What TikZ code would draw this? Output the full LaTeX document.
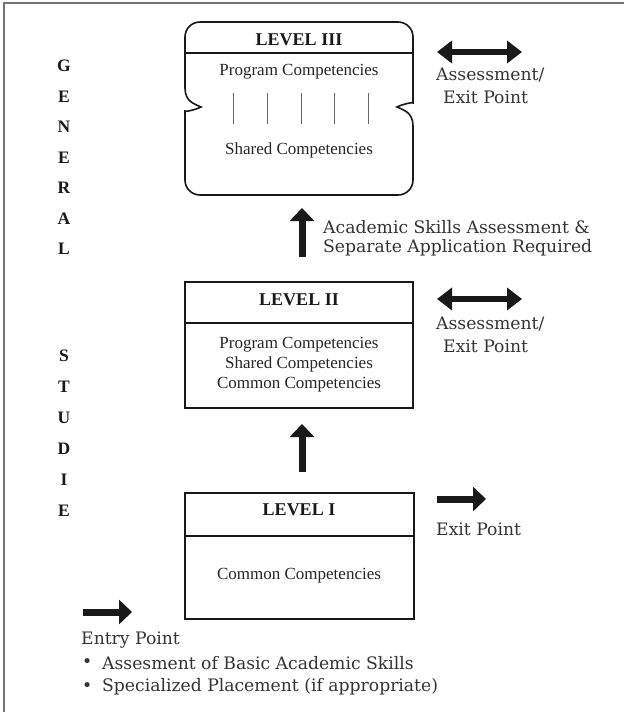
\documentclass[tikz,border=0pt]{standalone}
\usepackage{fontspec}
\setmainfont{Liberation Serif}
\newfontfamily\slab{DejaVu Serif}
\usetikzlibrary{arrows.meta}
\begin{document}
\begin{tikzpicture}[x=1pt,y=-1pt,
  box/.style={line width=1.6pt, draw=black!90},
  boxtxt/.style={font=\fontsize{17}{20}\selectfont, text=black!85, inner sep=0pt, align=center},
  boxhead/.style={font=\fontsize{18}{20}\selectfont\bfseries, text=black!90, inner sep=0pt},
  sidetxt/.style={font=\slab\fontsize{17.2}{20}\selectfont, text=black!80, inner sep=0pt, anchor=west},
  vletter/.style={font=\fontsize{17.5}{20}\selectfont\bfseries, text=black!90, inner sep=0pt},
  fatarrow/.style={line width=7pt, draw=black!90, -{Triangle[length=13pt,width=24pt]}},
  dblarrow/.style={line width=6pt, draw=black!90, {Triangle[length=15pt,width=22pt]}-{Triangle[length=15pt,width=22pt]}},
  tick/.style={line width=0.8pt, draw=black!60}]
\useasboundingbox (0,0) rectangle (624,712);
% partial frame (left and top)
\draw[line width=1.2pt, draw=black!55] (4,712) -- (4,3) -- (624,3);

% vertical letters
\foreach \l [count=\i from 0] in {G,E,N,E,R,A,L}
  \node[vletter] (g\i) at (64,{66+30.5*\i}) {\l};
\foreach \l [count=\i from 0] in {S,T,U,D,I,E}
  \node[vletter] (s\i) at (64,{356+31*\i}) {\l};

% LEVEL III box
\draw[box, rounded corners=15pt] (185,88) -- (185,22) -- (413,22) -- (413,88)
  [sharp corners] .. controls (413,102) and (403,104) .. (397,107)
  .. controls (403,110) and (413,112) .. (413,126)
  [rounded corners=15pt] -- (413,195) -- (185,195) -- (185,126)
  [sharp corners] .. controls (185,112) and (195,110) .. (201,107)
  .. controls (195,104) and (185,102) .. (185,88) -- cycle;
\draw[box] (185,53) -- (413,53);
\node[boxhead] (l3) at (299,40) {LEVEL III};
\node[boxtxt] (l3a) at (299,72) {Program Competencies};
\foreach \x in {233,267,301,334,368}
  \draw[tick] (\x,93) -- (\x,124);
\node[boxtxt] (l3b) at (299,150) {Shared Competencies};

% LEVEL II box
\draw[box] (185,282) rectangle (413,408);
\draw[box] (185,323) -- (413,323);
\node[boxhead] (l2) at (299,300) {LEVEL II};
\node[boxtxt] (l2a) at (299,365) {Program Competencies\\Shared Competencies\\Common Competencies};

% LEVEL I box
\draw[box] (185,493) rectangle (414,619);
\draw[box] (185,536) -- (414,536);
\node[boxhead] (l1) at (299,510) {LEVEL I};
\node[boxtxt] (l1a) at (299,576) {Common Competencies};

% arrows between levels
\coordinate (u1s) at (302,257); \coordinate (u1e) at (302,208);
\draw[fatarrow] (u1s) -- (u1e);
\node[sidetxt] (acad1) at (323,227) {Academic Skills Assessment \&};
\node[sidetxt] (acad2) at (323,248) {Separate Application Required};
\coordinate (u2s) at (302,472); \coordinate (u2e) at (302,424);
\draw[fatarrow] (u2s) -- (u2e);

% exit arrows
\coordinate (d3a) at (437,52); \coordinate (d3b) at (522,52);
\draw[dblarrow] (d3a) -- (d3b);
\node[sidetxt] (as3) at (436,75) {Assessment/};
\node[sidetxt] (ex3) at (443,97) {Exit Point};
\coordinate (d2a) at (437,299); \coordinate (d2b) at (522,299);
\draw[dblarrow] (d2a) -- (d2b);
\node[sidetxt] (as2) at (436,324) {Assessment/};
\node[sidetxt] (ex2) at (443,346) {Exit Point};
\coordinate (e1a) at (437,499); \coordinate (e1b) at (486,499);
\draw[fatarrow] (e1a) -- (e1b);
\node[sidetxt] (ex1) at (436,529) {Exit Point};

% entry
\coordinate (ena) at (83,612); \coordinate (enb) at (132,612);
\draw[fatarrow] (ena) -- (enb);
\node[sidetxt] (entry) at (81,640) {Entry Point};
\node[sidetxt] (b1) at (82,663) {\textbullet};
\node[sidetxt] (t1) at (102,663) {Assesment of Basic Academic Skills};
\node[sidetxt] (b2) at (82,687) {\textbullet};
\node[sidetxt] (t2) at (102,687) {Specialized Placement (if appropriate)};
\end{tikzpicture}
\end{document}
